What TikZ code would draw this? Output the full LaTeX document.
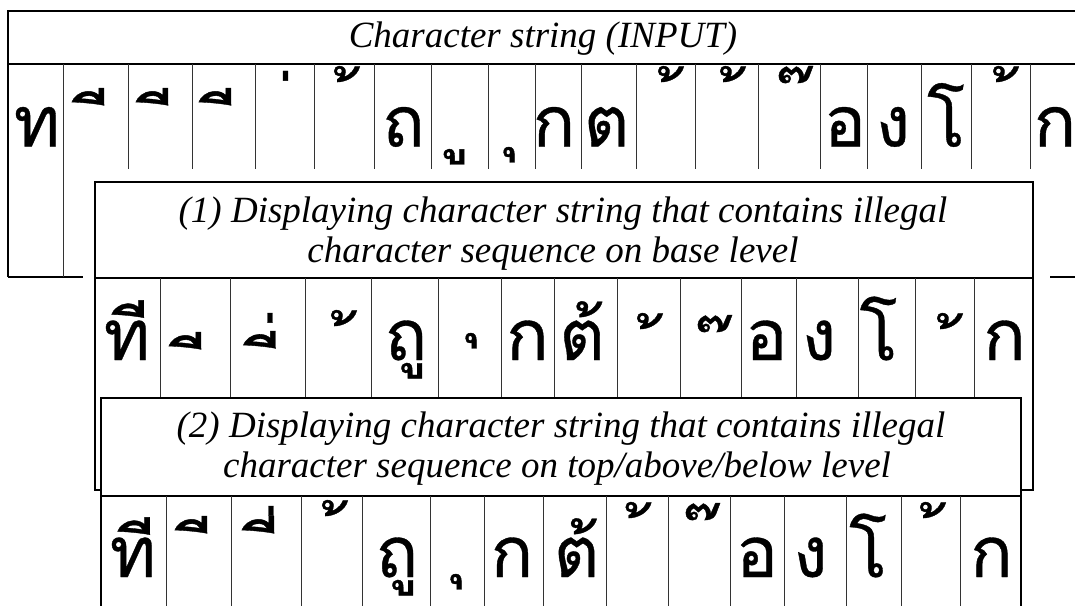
\documentclass[tikz,border=0pt]{standalone}
\usepackage{fontspec}
\setmainfont{Liberation Serif}
\newfontfamily\thaifont[Script=Thai,FakeBold=0.5]{Loma}
\XeTeXuseglyphmetrics=1
\newlength\thaiht
\settoheight\thaiht{\thaifont\fontsize{100pt}{100pt}\selectfont ก}
\pgfmathsetmacro\thaisize{39.5*100/\thaiht}
\newcommand\thaisz{\thaifont\fontsize{\thaisize pt}{\thaisize pt}\selectfont}
% a mark glyph whose box is its ink width, baseline at its ink top
\newcommand\tm[1]{\hbox{\vrule width0pt height0pt depth\dimexpr\XeTeXglyphbounds2 \XeTeXcharglyph"#1 +\XeTeXglyphbounds4 \XeTeXcharglyph"#1 \relax
  \lower\XeTeXglyphbounds2 \XeTeXcharglyph"#1 \hbox{\kern-\XeTeXglyphbounds1 \XeTeXcharglyph"#1 \XeTeXglyph\XeTeXcharglyph"#1 \kern-\XeTeXglyphbounds3 \XeTeXcharglyph"#1 }}}
\tikzset{
  ch/.style={font=\thaisz, inner sep=0pt, anchor=base},
  hdr/.style={font=\fontsize{37pt}{40pt}\selectfont\itshape, inner sep=0pt, anchor=base},
  frame/.style={line width=1.1pt, draw=black},
  sepline/.style={line width=0.9pt, draw=black!80},
}
\begin{document}
\begin{tikzpicture}[x=1pt,y=-1pt]
\useasboundingbox (0,0) rectangle (1075,605);
\clip (0,0) rectangle (1075,605);
% ---------------- panel 0 : INPUT
\draw[frame] (8,277) -- (8,11) -- (1085,11);
\draw[frame] (8,64) -- (1085,64);
\draw[frame] (8,277) -- (1085,277);
\foreach \x in {63,128,192,255,314,374,431,488,535,581,636,695,758,820,867,921,971,1030}
  \draw[sepline] (\x,64) -- (\x,277);
\node[hdr] (h0) at (543,47) {Character string (INPUT)};
\node[ch] (a1) at (37,146.5) {ท};
\node[ch] (a2) at (88,88) {\tm{0E35}};
\node[ch] (a3) at (152,88) {\tm{0E35}};
\node[ch] (a4) at (215,88) {\tm{0E35}};
\node[ch] (a5) at (285.5,71) {\tm{0E48}};
\node[ch] (a6) at (347,66) {\tm{0E49}};
\node[ch] (a7) at (403.5,146.5) {ถ};
\node[ch] (a8) at (454,149) {\tm{0E39}};
\node[ch] (a9) at (509,147) {\tm{0E38}};
\node[ch] (a10) at (554,146.5) {ก};
\node[ch] (a11) at (606.5,146.5) {ต};
\node[ch] (a12) at (671,66) {\tm{0E49}};
\node[ch] (a13) at (733,66) {\tm{0E49}};
\node[ch] (a14) at (796,66) {\tm{0E4A}};
\node[ch] (a15) at (845,146.5) {อ};
\node[ch] (a16) at (893,146.5) {ง};
\node[ch] (a17) at (946,146.5) {โ};
\node[ch] (a18) at (1006,66) {\tm{0E49}};
\node[ch] (a19) at (1055,146.5) {ก};
% white margin round panel 1
\fill[white] (83,169) rectangle (1050,500);
% ---------------- panel 1 : base level
\draw[frame, fill=white] (95,182) rectangle (1033,490);
\draw[frame] (95,278) -- (1033,278);
\foreach \x in {160,230,305,371,438,501,554,617,680,741,796,858,915,974}
  \draw[sepline] (\x,278) -- (\x,490);
\node[hdr] (h1a) at (563,222) {(1) Displaying character string that contains illegal};
\node[hdr] (h1b) at (553,262) {character sequence on base level};
\node[ch] (b1) at (127,360) {ที};
\node[ch] (b2) at (185,332) {\tm{0E35}};
\node[ch] (b3) at (259.5,331) {\tm{0E35}};
\node[ch] (b3m) at (270,313) {\tm{0E48}};
\node[ch] (b4) at (344,310) {\tm{0E49}};
\node[ch] (b5) at (406,360) {ถู};
\node[ch] (b6) at (471,333) {\tm{0E38}};
\node[ch] (b7) at (527.5,360) {ก};
\node[ch] (b8) at (582,360) {ต้};
\node[ch] (b9) at (650,313) {\tm{0E49}};
\node[ch] (b10) at (715,315) {\tm{0E4A}};
\node[ch] (b11) at (766.5,360) {อ};
\node[ch] (b12) at (819,360) {ง};
\node[ch] (b13) at (878.5,360) {โ};
\node[ch] (b14) at (950,313) {\tm{0E49}};
\node[ch] (b15) at (1004.5,360) {ก};
% ---------------- panel 2 : top/above/below level
\draw[frame, fill=white] (101,398) rectangle (1021,620);
\draw[frame] (101,496) -- (1021,496);
\foreach \x in {166,231,301,362,430,484,543,606,668,730,784,846,901,960}
  \draw[sepline] (\x,496) -- (\x,610);
\node[hdr] (h2a) at (561,437) {(2) Displaying character string that contains illegal};
\node[hdr] (h2b) at (557,477) {character sequence on top/above/below level};
\node[ch] (c1) at (133,577) {ที};
\node[ch] (c2) at (191,516) {\tm{0E35}};
\node[ch] (c3) at (258,516) {\tm{0E35}};
\node[ch] (c3m) at (271,506) {\tm{0E48}};
\node[ch] (c4) at (335,500) {\tm{0E49}};
\node[ch] (c5) at (397,577) {ถู};
\node[ch] (c6) at (456,574) {\tm{0E38}};
\node[ch] (c7) at (512,577) {ก};
\node[ch] (c8) at (576.5,577) {ต้};
\node[ch] (c9) at (638.5,502) {\tm{0E49}};
\node[ch] (c10) at (703,503) {\tm{0E4A}};
\node[ch] (c11) at (757,577) {อ};
\node[ch] (c12) at (810.5,577) {ง};
\node[ch] (c13) at (868,577) {โ};
\node[ch] (c14) at (933,502) {\tm{0E49}};
\node[ch] (c15) at (991.5,577) {ก};
\end{tikzpicture}
\end{document}
